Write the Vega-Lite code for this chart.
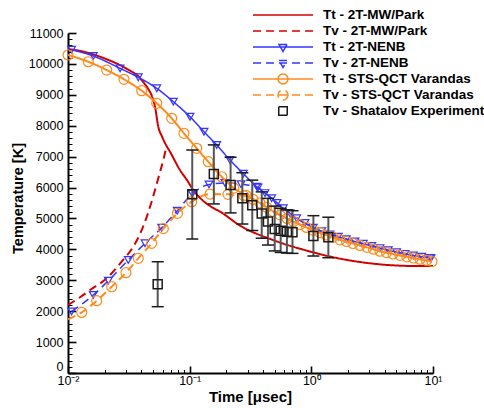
{
  "$schema": "https://vega.github.io/schema/vega-lite/v6.json",
  "width": 365,
  "height": 340,
  "autosize": {"type": "none"},
  "padding": {"left": 68, "top": 33, "right": 51, "bottom": 35},
  "background": "white",
  "config": {
    "view": {"stroke": null},
    "font": "Liberation Sans",
    "legend": {
      "orient": "none",
      "legendX": 208.25,
      "legendY": -24.75,
      "padding": 0,
      "rowPadding": -1,
      "labelOffset": 33.25,
      "labelFont": "Liberation Sans",
      "labelFontSize": 13.5,
      "labelFontWeight": "bold",
      "labelColor": "#000000",
      "labelLimit": 300,
      "symbolSize": 100,
      "symbolStrokeWidth": 1.5,
      "symbolOpacity": 1
    }
  },
  "datasets": {
    "curves": [
      {"series": "Tt - 2T-MW/Park", "t": 0.01, "T": 10480},
      {"series": "Tt - 2T-MW/Park", "t": 0.0126, "T": 10420},
      {"series": "Tt - 2T-MW/Park", "t": 0.0152, "T": 10340},
      {"series": "Tt - 2T-MW/Park", "t": 0.0208, "T": 10150},
      {"series": "Tt - 2T-MW/Park", "t": 0.0268, "T": 9960},
      {"series": "Tt - 2T-MW/Park", "t": 0.0324, "T": 9780},
      {"series": "Tt - 2T-MW/Park", "t": 0.0369, "T": 9640},
      {"series": "Tt - 2T-MW/Park", "t": 0.0414, "T": 9420},
      {"series": "Tt - 2T-MW/Park", "t": 0.0455, "T": 9200},
      {"series": "Tt - 2T-MW/Park", "t": 0.049, "T": 8950},
      {"series": "Tt - 2T-MW/Park", "t": 0.0519, "T": 8615},
      {"series": "Tt - 2T-MW/Park", "t": 0.0552, "T": 7968},
      {"series": "Tt - 2T-MW/Park", "t": 0.0593, "T": 7650},
      {"series": "Tt - 2T-MW/Park", "t": 0.0627, "T": 7440},
      {"series": "Tt - 2T-MW/Park", "t": 0.0689, "T": 7160},
      {"series": "Tt - 2T-MW/Park", "t": 0.0832, "T": 6567},
      {"series": "Tt - 2T-MW/Park", "t": 0.0951, "T": 6240},
      {"series": "Tt - 2T-MW/Park", "t": 0.107, "T": 5920},
      {"series": "Tt - 2T-MW/Park", "t": 0.13, "T": 5560},
      {"series": "Tt - 2T-MW/Park", "t": 0.156, "T": 5340},
      {"series": "Tt - 2T-MW/Park", "t": 0.178, "T": 5218},
      {"series": "Tt - 2T-MW/Park", "t": 0.259, "T": 4770},
      {"series": "Tt - 2T-MW/Park", "t": 0.486, "T": 4300},
      {"series": "Tt - 2T-MW/Park", "t": 0.915, "T": 3960},
      {"series": "Tt - 2T-MW/Park", "t": 1.72, "T": 3700},
      {"series": "Tt - 2T-MW/Park", "t": 3.66, "T": 3516},
      {"series": "Tt - 2T-MW/Park", "t": 6.88, "T": 3462},
      {"series": "Tt - 2T-MW/Park", "t": 10, "T": 3460},

      {"series": "Tv - 2T-MW/Park", "t": 0.01, "T": 2200},
      {"series": "Tv - 2T-MW/Park", "t": 0.01256, "T": 2450},
      {"series": "Tv - 2T-MW/Park", "t": 0.0152, "T": 2685},
      {"series": "Tv - 2T-MW/Park", "t": 0.0208, "T": 3063},
      {"series": "Tv - 2T-MW/Park", "t": 0.0276, "T": 3600},
      {"series": "Tv - 2T-MW/Park", "t": 0.0344, "T": 4086},
      {"series": "Tv - 2T-MW/Park", "t": 0.0391, "T": 4500},
      {"series": "Tv - 2T-MW/Park", "t": 0.0444, "T": 5056},
      {"series": "Tv - 2T-MW/Park", "t": 0.0519, "T": 5920},
      {"series": "Tv - 2T-MW/Park", "t": 0.057, "T": 6500},
      {"series": "Tv - 2T-MW/Park", "t": 0.0607, "T": 6890},
      {"series": "Tv - 2T-MW/Park", "t": 0.0645, "T": 7330},

      {"series": "Tt - 2T-NENB", "t": 0.0107, "T": 10460},
      {"series": "Tt - 2T-NENB", "t": 0.01614, "T": 10255},
      {"series": "Tt - 2T-NENB", "t": 0.0268, "T": 9857},
      {"series": "Tt - 2T-NENB", "t": 0.0378, "T": 9566},
      {"series": "Tt - 2T-NENB", "t": 0.0536, "T": 9210},
      {"series": "Tt - 2T-NENB", "t": 0.0734, "T": 8777},
      {"series": "Tt - 2T-NENB", "t": 0.1006, "T": 8291},
      {"series": "Tt - 2T-NENB", "t": 0.1312, "T": 7806},
      {"series": "Tt - 2T-NENB", "t": 0.1668, "T": 7376},
      {"series": "Tt - 2T-NENB", "t": 0.2145, "T": 6890},
      {"series": "Tt - 2T-NENB", "t": 0.276, "T": 6450},
      {"series": "Tt - 2T-NENB", "t": 0.3556, "T": 6027},
      {"series": "Tt - 2T-NENB", "t": 0.4722, "T": 5652},
      {"series": "Tt - 2T-NENB", "t": 0.588, "T": 5328},
      {"series": "Tt - 2T-NENB", "t": 0.758, "T": 5005},
      {"series": "Tt - 2T-NENB", "t": 1.038, "T": 4700},
      {"series": "Tt - 2T-NENB", "t": 1.423, "T": 4480},
      {"series": "Tt - 2T-NENB", "t": 1.94, "T": 4330},
      {"series": "Tt - 2T-NENB", "t": 2.674, "T": 4180},
      {"series": "Tt - 2T-NENB", "t": 3.667, "T": 4040},
      {"series": "Tt - 2T-NENB", "t": 5.03, "T": 3910},
      {"series": "Tt - 2T-NENB", "t": 6.89, "T": 3800},
      {"series": "Tt - 2T-NENB", "t": 9.445, "T": 3720},

      {"series": "Tv - 2T-NENB", "t": 0.0107, "T": 1990},
      {"series": "Tv - 2T-NENB", "t": 0.01614, "T": 2523},
      {"series": "Tv - 2T-NENB", "t": 0.02144, "T": 2986},
      {"series": "Tv - 2T-NENB", "t": 0.0313, "T": 3656},
      {"series": "Tv - 2T-NENB", "t": 0.043, "T": 4196},
      {"series": "Tv - 2T-NENB", "t": 0.0589, "T": 4700},
      {"series": "Tv - 2T-NENB", "t": 0.0791, "T": 5250},
      {"series": "Tv - 2T-NENB", "t": 0.1051, "T": 5800},
      {"series": "Tv - 2T-NENB", "t": 0.1442, "T": 6100},
      {"series": "Tv - 2T-NENB", "t": 0.1952, "T": 6150},
      {"series": "Tv - 2T-NENB", "t": 0.2642, "T": 6110},
      {"series": "Tv - 2T-NENB", "t": 0.3643, "T": 6000},
      {"series": "Tv - 2T-NENB", "t": 0.416, "T": 5820},
      {"series": "Tv - 2T-NENB", "t": 0.522, "T": 5500},
      {"series": "Tv - 2T-NENB", "t": 0.668, "T": 5168},
      {"series": "Tv - 2T-NENB", "t": 0.887, "T": 4853},
      {"series": "Tv - 2T-NENB", "t": 1.217, "T": 4590},
      {"series": "Tv - 2T-NENB", "t": 1.665, "T": 4410},
      {"series": "Tv - 2T-NENB", "t": 2.285, "T": 4255},
      {"series": "Tv - 2T-NENB", "t": 3.135, "T": 4110},
      {"series": "Tv - 2T-NENB", "t": 4.29, "T": 3975},
      {"series": "Tv - 2T-NENB", "t": 5.886, "T": 3855},
      {"series": "Tv - 2T-NENB", "t": 8.075, "T": 3760},
      {"series": "Tv - 2T-NENB", "t": 9.63, "T": 3715},

      {"series": "Tt - STS-QCT Varandas", "t": 0.01, "T": 10288},
      {"series": "Tt - STS-QCT Varandas", "t": 0.01468, "T": 10070},
      {"series": "Tt - STS-QCT Varandas", "t": 0.0208, "T": 9802},
      {"series": "Tt - STS-QCT Varandas", "t": 0.02886, "T": 9501},
      {"series": "Tt - STS-QCT Varandas", "t": 0.04034, "T": 9133},
      {"series": "Tt - STS-QCT Varandas", "t": 0.0536, "T": 8725},
      {"series": "Tt - STS-QCT Varandas", "t": 0.0712, "T": 8240},
      {"series": "Tt - STS-QCT Varandas", "t": 0.0898, "T": 7754},
      {"series": "Tt - STS-QCT Varandas", "t": 0.1142, "T": 7269},
      {"series": "Tt - STS-QCT Varandas", "t": 0.1422, "T": 6836},
      {"series": "Tt - STS-QCT Varandas", "t": 0.1834, "T": 6350},
      {"series": "Tt - STS-QCT Varandas", "t": 0.2313, "T": 5980},
      {"series": "Tt - STS-QCT Varandas", "t": 0.2904, "T": 5750},
      {"series": "Tt - STS-QCT Varandas", "t": 0.3784, "T": 5500},
      {"series": "Tt - STS-QCT Varandas", "t": 0.4841, "T": 5230},
      {"series": "Tt - STS-QCT Varandas", "t": 0.631, "T": 5000},
      {"series": "Tt - STS-QCT Varandas", "t": 0.8067, "T": 4800},
      {"series": "Tt - STS-QCT Varandas", "t": 1.032, "T": 4620},
      {"series": "Tt - STS-QCT Varandas", "t": 1.319, "T": 4465},
      {"series": "Tt - STS-QCT Varandas", "t": 1.72, "T": 4310},
      {"series": "Tt - STS-QCT Varandas", "t": 2.2, "T": 4190},
      {"series": "Tt - STS-QCT Varandas", "t": 2.867, "T": 4065},
      {"series": "Tt - STS-QCT Varandas", "t": 3.667, "T": 3940},
      {"series": "Tt - STS-QCT Varandas", "t": 4.69, "T": 3850},
      {"series": "Tt - STS-QCT Varandas", "t": 6.11, "T": 3760},
      {"series": "Tt - STS-QCT Varandas", "t": 7.82, "T": 3680},
      {"series": "Tt - STS-QCT Varandas", "t": 9.81, "T": 3605},

      {"series": "Tv - STS-QCT Varandas", "t": 0.01, "T": 1740},
      {"series": "Tv - STS-QCT Varandas", "t": 0.01296, "T": 1960},
      {"series": "Tv - STS-QCT Varandas", "t": 0.01722, "T": 2339},
      {"series": "Tv - STS-QCT Varandas", "t": 0.02286, "T": 2792},
      {"series": "Tv - STS-QCT Varandas", "t": 0.02997, "T": 3245},
      {"series": "Tv - STS-QCT Varandas", "t": 0.0378, "T": 3711},
      {"series": "Tv - STS-QCT Varandas", "t": 0.0487, "T": 4196},
      {"series": "Tv - STS-QCT Varandas", "t": 0.0607, "T": 4670},
      {"series": "Tv - STS-QCT Varandas", "t": 0.0794, "T": 5166},
      {"series": "Tv - STS-QCT Varandas", "t": 0.1039, "T": 5542},
      {"series": "Tv - STS-QCT Varandas", "t": 0.1469, "T": 5790},
      {"series": "Tv - STS-QCT Varandas", "t": 0.2065, "T": 5780},
      {"series": "Tv - STS-QCT Varandas", "t": 0.2796, "T": 5730},
      {"series": "Tv - STS-QCT Varandas", "t": 0.3315, "T": 5620},
      {"series": "Tv - STS-QCT Varandas", "t": 0.428, "T": 5365},
      {"series": "Tv - STS-QCT Varandas", "t": 0.5525, "T": 5115},
      {"series": "Tv - STS-QCT Varandas", "t": 0.7137, "T": 4900},
      {"series": "Tv - STS-QCT Varandas", "t": 0.9125, "T": 4710},
      {"series": "Tv - STS-QCT Varandas", "t": 1.178, "T": 4540},
      {"series": "Tv - STS-QCT Varandas", "t": 1.507, "T": 4395},
      {"series": "Tv - STS-QCT Varandas", "t": 1.945, "T": 4255},
      {"series": "Tv - STS-QCT Varandas", "t": 2.512, "T": 4127},
      {"series": "Tv - STS-QCT Varandas", "t": 3.243, "T": 4005},
      {"series": "Tv - STS-QCT Varandas", "t": 4.148, "T": 3895},
      {"series": "Tv - STS-QCT Varandas", "t": 5.354, "T": 3805},
      {"series": "Tv - STS-QCT Varandas", "t": 6.915, "T": 3720},
      {"series": "Tv - STS-QCT Varandas", "t": 8.842, "T": 3643}
    ],
    "exp": [
      {"t": 0.0546, "T": 2870, "lo": 2145, "hi": 3600},
      {"t": 0.105, "T": 5780, "lo": 4335, "hi": 7214},
      {"t": 0.158, "T": 6440, "lo": 5470, "hi": 7380},
      {"t": 0.217, "T": 6080, "lo": 5180, "hi": 6980},
      {"t": 0.271, "T": 5650, "lo": 4820, "hi": 6480},
      {"t": 0.327, "T": 5430, "lo": 4610, "hi": 6240},
      {"t": 0.391, "T": 5160, "lo": 4360, "hi": 5860},
      {"t": 0.44, "T": 4900, "lo": 4140, "hi": 5650},
      {"t": 0.5, "T": 4660, "lo": 3950, "hi": 5400},
      {"t": 0.56, "T": 4600, "lo": 3900, "hi": 5330},
      {"t": 0.63, "T": 4570, "lo": 3880, "hi": 5280},
      {"t": 0.7, "T": 4550, "lo": 3870, "hi": 5250},
      {"t": 1.04, "T": 4430, "lo": 3785, "hi": 5090},
      {"t": 1.38, "T": 4390, "lo": 3730, "hi": 5040}
    ],
    "legend": [
      {"series": "Tt - 2T-MW/Park"},
      {"series": "Tv - 2T-MW/Park"},
      {"series": "Tt - 2T-NENB"},
      {"series": "Tv - 2T-NENB"},
      {"series": "Tt - STS-QCT Varandas"},
      {"series": "Tv - STS-QCT Varandas"},
      {"series": "Tv - Shatalov Experiment"}
    ]
  },
  "encoding": {
    "x": {
      "field": "t",
      "type": "quantitative",
      "scale": {"type": "log", "domain": [0.01, 10]},
      "axis": {
        "title": "Time [μsec]",
        "grid": false,
        "values": [0.01,0.02,0.03,0.04,0.05,0.06,0.07,0.08,0.09,0.1,0.2,0.3,0.4,0.5,0.6,0.7,0.8,0.9,1,2,3,4,5,6,7,8,9,10],
        "labelExpr": "datum.value==0.01?'10⁻²':datum.value==0.1?'10⁻¹':datum.value==1?'10⁰':datum.value==10?'10¹':''",
        "tickSize": {"condition": {"test": "datum.value==0.01||datum.value==0.1||datum.value==1||datum.value==10", "value": -7}, "value": -3.5},
        "tickWidth": {"condition": {"test": "datum.value==0.01||datum.value==0.1||datum.value==1||datum.value==10", "value": 1.6}, "value": 1},
        "tickColor": "#000000",
        "domainColor": "#000000",
        "domainWidth": 2,
        "labelFont": "Liberation Sans",
        "labelFontSize": 12.5,
        "labelColor": "#000000",
        "labelPadding": 8,
        "labelFlush": false,
        "labelOverlap": false,
        "titleFont": "Liberation Sans",
        "titleFontSize": 15,
        "titleFontWeight": "bold",
        "titleColor": "#000000",
        "titleX": 182,
        "titleY": 23,
        "titleAlign": "center",
        "titleBaseline": "middle"
      }
    },
    "y": {
      "field": "T",
      "type": "quantitative",
      "scale": {"domain": [0, 11000]},
      "axis": {
        "title": "Temperature [K]",
        "grid": false,
        "values": [0,200,400,600,800,1000,1200,1400,1600,1800,2000,2200,2400,2600,2800,3000,3200,3400,3600,3800,4000,4200,4400,4600,4800,5000,5200,5400,5600,5800,6000,6200,6400,6600,6800,7000,7200,7400,7600,7800,8000,8200,8400,8600,8800,9000,9200,9400,9600,9800,10000,10200,10400,10600,10800,11000],
        "format": "d",
        "labelExpr": "datum.value % 1000 == 0 ? datum.label : ''",
        "tickSize": {"condition": {"test": "datum.value % 1000 == 0", "value": -8}, "value": -4},
        "tickWidth": {"condition": {"test": "datum.value % 1000 == 0", "value": 1.6}, "value": 1},
        "labelBaseline": {"condition": {"test": "datum.value == 0", "value": "bottom"}, "value": "middle"},
        "tickColor": "#000000",
        "domainColor": "#000000",
        "domainWidth": 2,
        "labelFont": "Liberation Sans",
        "labelFontSize": 12.5,
        "labelColor": "#000000",
        "labelPadding": 13,
        "labelFlush": false,
        "labelOverlap": false,
        "titleFont": "Liberation Sans",
        "titleFontSize": 14.5,
        "titleFontWeight": "bold",
        "titleColor": "#000000",
        "titleAngle": -90,
        "titleX": -50,
        "titleY": 165,
        "titleAlign": "center",
        "titleBaseline": "middle"
      }
    }
  },
  "layer": [
    {
      "data": {"name": "legend"},
      "mark": {"type": "point", "filled": false, "strokeWidth": 1.5},
      "encoding": {
        "color": {
          "field": "series",
          "type": "nominal",
          "scale": {
            "domain": ["Tt - 2T-MW/Park", "Tv - 2T-MW/Park", "Tt - 2T-NENB", "Tv - 2T-NENB", "Tt - STS-QCT Varandas", "Tv - STS-QCT Varandas", "Tv - Shatalov Experiment"],
            "range": ["#d40000", "#d40000", "#3535ff", "#3535ff", "#ff8a1c", "#ff8a1c", "#1a1a1a"]
          },
          "legend": {"title": null}
        },
        "shape": {
          "field": "series",
          "type": "nominal",
          "scale": {
            "domain": ["Tt - 2T-MW/Park", "Tv - 2T-MW/Park", "Tt - 2T-NENB", "Tv - 2T-NENB", "Tt - STS-QCT Varandas", "Tv - STS-QCT Varandas", "Tv - Shatalov Experiment"],
            "range": [
              "M0,-1M0,1M-6,0H6",
              "M0,-1M0,1M-6,0H6",
              "M0,-1M0,1M-6,0H6M-0.8,-0.5L0.8,-0.5L0,0.9Z",
              "M0,-1M0,1M-6,0H6M-0.8,-0.5L0.8,-0.5L0,0.9Z",
              "M-6,0H6M1.0,0L0.924,0.383L0.707,0.707L0.383,0.924L0,1.0L-0.383,0.924L-0.707,0.707L-0.924,0.383L-1.0,0L-0.924,-0.383L-0.707,-0.707L-0.383,-0.924L0,-1.0L0.383,-0.924L0.707,-0.707L0.924,-0.383Z",
              "M-6,0H6M1.0,0L0.924,0.383L0.707,0.707L0.383,0.924L0,1.0L-0.383,0.924L-0.707,0.707L-0.924,0.383L-1.0,0L-0.924,-0.383L-0.707,-0.707L-0.383,-0.924L0,-1.0L0.383,-0.924L0.707,-0.707L0.924,-0.383Z",
              "M0,-1M0,1M-0.85,-0.85H0.85V0.85H-0.85Z"
            ]
          },
          "legend": {"title": null}
        },
        "strokeDash": {
          "field": "series",
          "type": "nominal",
          "scale": {
            "domain": ["Tt - 2T-MW/Park", "Tv - 2T-MW/Park", "Tt - 2T-NENB", "Tv - 2T-NENB", "Tt - STS-QCT Varandas", "Tv - STS-QCT Varandas", "Tv - Shatalov Experiment"],
            "range": [[1, 0], [8, 5], [1, 0], [8, 5], [1, 0], [8, 5], [1, 0]]
          },
          "legend": {"title": null}
        }
      }
    },
    {
      "data": {"name": "curves"},
      "transform": [{"filter": "indexof(datum.series, 'MW/Park') >= 0"}],
      "mark": {"type": "line", "strokeWidth": 2, "interpolate": "monotone"},
      "encoding": {
        "color": {"field": "series", "type": "nominal"},
        "strokeDash": {"field": "series", "type": "nominal"}
      }
    },
    {
      "data": {"name": "curves"},
      "transform": [{"filter": "indexof(datum.series, 'NENB') >= 0"}],
      "mark": {"type": "line", "strokeWidth": 1.5, "interpolate": "monotone"},
      "encoding": {
        "color": {"field": "series", "type": "nominal"},
        "strokeDash": {"field": "series", "type": "nominal"}
      }
    },
    {
      "data": {"name": "curves"},
      "transform": [{"filter": "indexof(datum.series, 'NENB') >= 0"}],
      "mark": {"type": "point", "shape": "triangle-down", "size": 60, "filled": false, "strokeWidth": 1.2, "opacity": 1},
      "encoding": {
        "color": {"field": "series", "type": "nominal"}
      }
    },
    {
      "data": {"name": "curves"},
      "transform": [{"filter": "indexof(datum.series, 'Varandas') >= 0"}],
      "mark": {"type": "line", "strokeWidth": 2, "interpolate": "monotone"},
      "encoding": {
        "color": {"field": "series", "type": "nominal"},
        "strokeDash": {"field": "series", "type": "nominal"}
      }
    },
    {
      "data": {"name": "curves"},
      "transform": [{"filter": "indexof(datum.series, 'Varandas') >= 0 && (datum.series == 'Tt - STS-QCT Varandas' || datum.t > 0.0101)"}],
      "mark": {"type": "point", "shape": "circle", "size": 100, "filled": false, "strokeWidth": 1.2, "opacity": 1},
      "encoding": {
        "color": {"field": "series", "type": "nominal"}
      }
    },
    {
      "data": {"name": "exp"},
      "mark": {"type": "rule", "color": "#555555", "strokeWidth": 2},
      "encoding": {
        "y": {"field": "lo", "type": "quantitative"},
        "y2": {"field": "hi"}
      }
    },
    {
      "data": {"name": "exp"},
      "mark": {"type": "tick", "orient": "horizontal", "color": "#1a1a1a", "size": 12, "thickness": 1.5, "opacity": 1},
      "encoding": {
        "y": {"field": "lo", "type": "quantitative"}
      }
    },
    {
      "data": {"name": "exp"},
      "mark": {"type": "tick", "orient": "horizontal", "color": "#1a1a1a", "size": 12, "thickness": 1.5, "opacity": 1},
      "encoding": {
        "y": {"field": "hi", "type": "quantitative"}
      }
    },
    {
      "data": {"name": "exp"},
      "mark": {"type": "point", "shape": "square", "size": 81, "filled": false, "color": "#1a1a1a", "strokeWidth": 1.5, "opacity": 1}
    }
  ]
}
